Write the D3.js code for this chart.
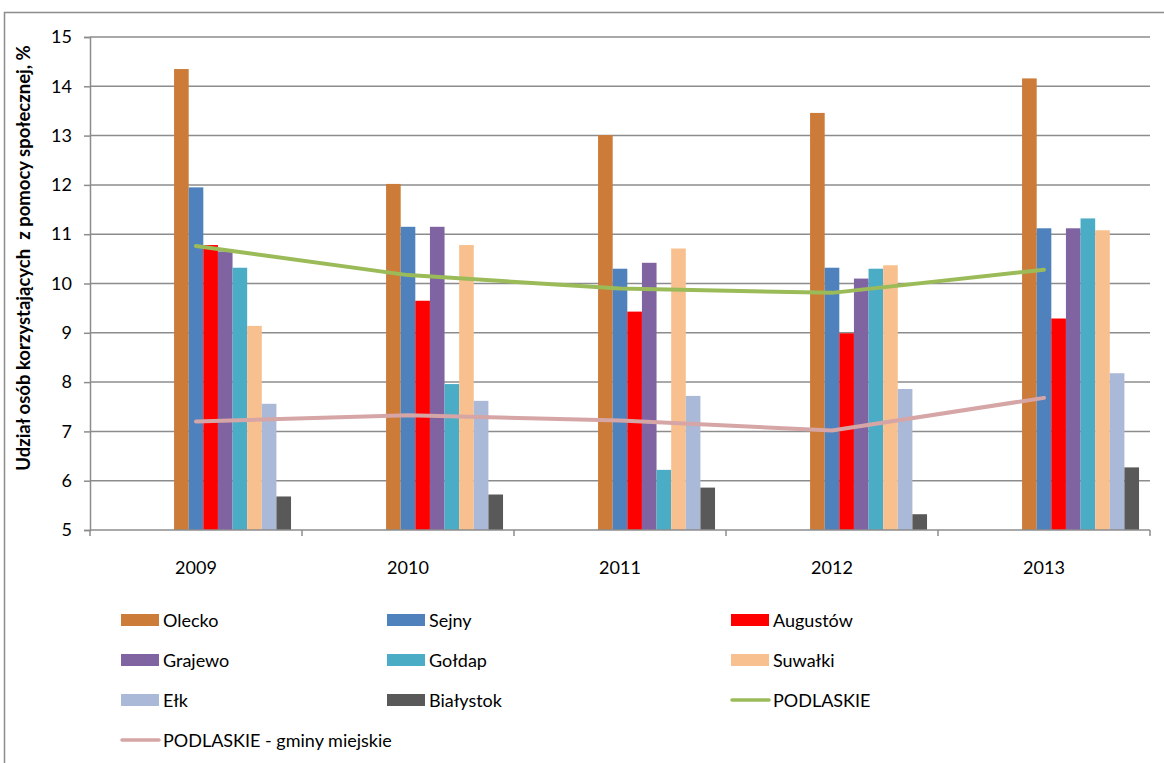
<!DOCTYPE html>
<html>
<head>
<meta charset="utf-8">
<script src="https://cdn.jsdelivr.net/npm/d3@7"></script>
<style>
  body { margin: 0; background: #fff; }
  text { font-family: Lato, "Open Sans", sans-serif; fill: #000; }
</style>
</head>
<body>
<div class="chart"></div>
<script>
// categories
var years = ["2009", "2010", "2011", "2012", "2013"];

// bar series
var olecko    = [14.35, 12.02, 13.01, 13.46, 14.16];
var sejny     = [11.95, 11.15, 10.30, 10.32, 11.12];
var augustow  = [10.78, 9.65, 9.43, 8.99, 9.29];
var grajewo   = [10.65, 11.15, 10.42, 10.10, 11.12];
var goldap    = [10.32, 7.96, 6.22, 10.30, 11.32];
var suwalki   = [9.14, 10.78, 10.71, 10.37, 11.08];
var elk       = [7.56, 7.62, 7.72, 7.86, 8.18];
var bialystok = [5.68, 5.72, 5.86, 5.32, 6.27];

// line series
var podlaskie = [10.76, 10.17, 9.90, 9.81, 10.28];
var podlaskieMiejskie = [7.20, 7.33, 7.22, 7.02, 7.68];

var yTicks = [5, 6, 7, 8, 9, 10, 11, 12, 13, 14, 15];

var barSeries = [
  {name: "Olecko", values: olecko, color: "#CC7B38"},
  {name: "Sejny", values: sejny, color: "#4F81BD"},
  {name: "Augustów", values: augustow, color: "#FF0000"},
  {name: "Grajewo", values: grajewo, color: "#8064A2"},
  {name: "Gołdap", values: goldap, color: "#4BACC6"},
  {name: "Suwałki", values: suwalki, color: "#F9C08F"},
  {name: "Ełk", values: elk, color: "#AAB9D7"},
  {name: "Białystok", values: bialystok, color: "#595959"}
];
var lineSeries = [
  {name: "PODLASKIE", values: podlaskie, color: "#9BBB59"},
  {name: "PODLASKIE - gminy miejskie", values: podlaskieMiejskie, color: "#D6A5A5"}
];

var svgWidth = 1164, svgHeight = 763;
var margin = {top: 37, left: 90, right: 14, bottom: 233};
var width = svgWidth - margin.left - margin.right;
var height = svgHeight - margin.top - margin.bottom;

var svg = d3.select(".chart").append("svg")
  .attr("width", svgWidth)
  .attr("height", svgHeight);

// outer chart frame
svg.append("rect")
  .attr("x", 4.5).attr("y", 12.5)
  .attr("width", 1200).attr("height", 800)
  .attr("fill", "none")
  .attr("stroke", "#8c8c8c")
  .attr("stroke-width", 1.5);

var chartGroup = svg.append("g")
  .attr("transform", `translate(${margin.left}, ${margin.top})`);

var x0 = d3.scaleBand().domain(years).range([0, width]);
// 13 bar slots per category, the first 5 are empty in the source workbook
var slot = d3.scaleBand().domain(d3.range(13)).range([0, x0.bandwidth()])
  .paddingInner(0).paddingOuter(0.75);
var y = d3.scaleLinear().domain([5, 15]).range([height, 0]);

// gridlines
chartGroup.append("g")
  .selectAll("line")
  .data(yTicks.slice(1))
  .enter()
  .append("line")
  .attr("x1", 0).attr("x2", width)
  .attr("y1", d => y(d)).attr("y2", d => y(d))
  .attr("stroke", "#8c8c8c")
  .attr("stroke-width", 1.5);

// y axis
var yAxis = d3.axisLeft(y).tickValues(yTicks).tickSize(6).tickPadding(12);
var yG = chartGroup.append("g").call(yAxis);
yG.select(".domain").attr("stroke", "#8c8c8c").attr("stroke-width", 1.5);
yG.selectAll(".tick line").attr("stroke", "#8c8c8c").attr("stroke-width", 1.5);
yG.selectAll(".tick text").attr("font-size", "18px").attr("font-family", "Lato, sans-serif");

// bars
barSeries.forEach(function (s, i) {
  chartGroup.append("g")
    .selectAll("rect")
    .data(s.values)
    .enter()
    .append("rect")
    .attr("x", (d, j) => x0(years[j]) + slot(i + 5))
    .attr("y", d => y(d))
    .attr("width", slot.bandwidth())
    .attr("height", d => height - y(d))
    .attr("fill", s.color);
});

// x axis
var xG = chartGroup.append("g")
  .attr("transform", `translate(0, ${height})`);
xG.append("line")
  .attr("x1", 0).attr("x2", width)
  .attr("stroke", "#8c8c8c").attr("stroke-width", 1.5);
xG.selectAll(".xtick")
  .data(d3.range(years.length + 1))
  .enter()
  .append("line")
  .attr("x1", d => d * x0.step()).attr("x2", d => d * x0.step())
  .attr("y1", 0).attr("y2", 6)
  .attr("stroke", "#8c8c8c").attr("stroke-width", 1.5);
xG.selectAll("text")
  .data(years)
  .enter()
  .append("text")
  .attr("x", d => x0(d) + x0.bandwidth() / 2)
  .attr("y", 44)
  .attr("text-anchor", "middle")
  .attr("font-size", "18px")
  .text(d => d);

// lines
var line = d3.line()
  .x((d, j) => x0(years[j]) + x0.bandwidth() / 2)
  .y(d => y(d));

lineSeries.forEach(function (s) {
  chartGroup.append("path")
    .datum(s.values)
    .attr("d", line)
    .attr("fill", "none")
    .attr("stroke", s.color)
    .attr("stroke-width", 4)
    .attr("stroke-linecap", "round")
    .attr("stroke-linejoin", "round");
});

// y axis label
svg.append("text")
  .attr("transform", "rotate(-90)")
  .attr("x", -258)
  .attr("y", 30)
  .attr("text-anchor", "middle")
  .attr("font-size", "18.5px")
  .attr("font-weight", "bold")
  .attr("xml:space", "preserve")
  .text("Udział osób korzystających  z pomocy społecznej, %");

// legend
var legendItems = barSeries.map(s => ({name: s.name, color: s.color, type: "bar"}))
  .concat(lineSeries.map(s => ({name: s.name, color: s.color, type: "line"})));
var colX = [121, 387, 731];
var rowY = [620, 660, 700, 740];

var legend = svg.append("g")
  .selectAll("g")
  .data(legendItems)
  .enter()
  .append("g")
  .attr("transform", (d, i) => `translate(${colX[i % 3]}, ${rowY[Math.floor(i / 3)]})`);

legend.filter(d => d.type === "bar").append("rect")
  .attr("x", 0).attr("y", -6)
  .attr("width", 38).attr("height", 12)
  .attr("fill", d => d.color);

legend.filter(d => d.type === "line").append("line")
  .attr("x1", 1).attr("x2", 38)
  .attr("y1", 0).attr("y2", 0)
  .attr("stroke", d => d.color)
  .attr("stroke-width", 3.5)
  .attr("stroke-linecap", "round");

legend.append("text")
  .attr("x", 42)
  .attr("y", 7)
  .attr("font-size", "18px")
  .text(d => d.name);
</script>
</body>
</html>
